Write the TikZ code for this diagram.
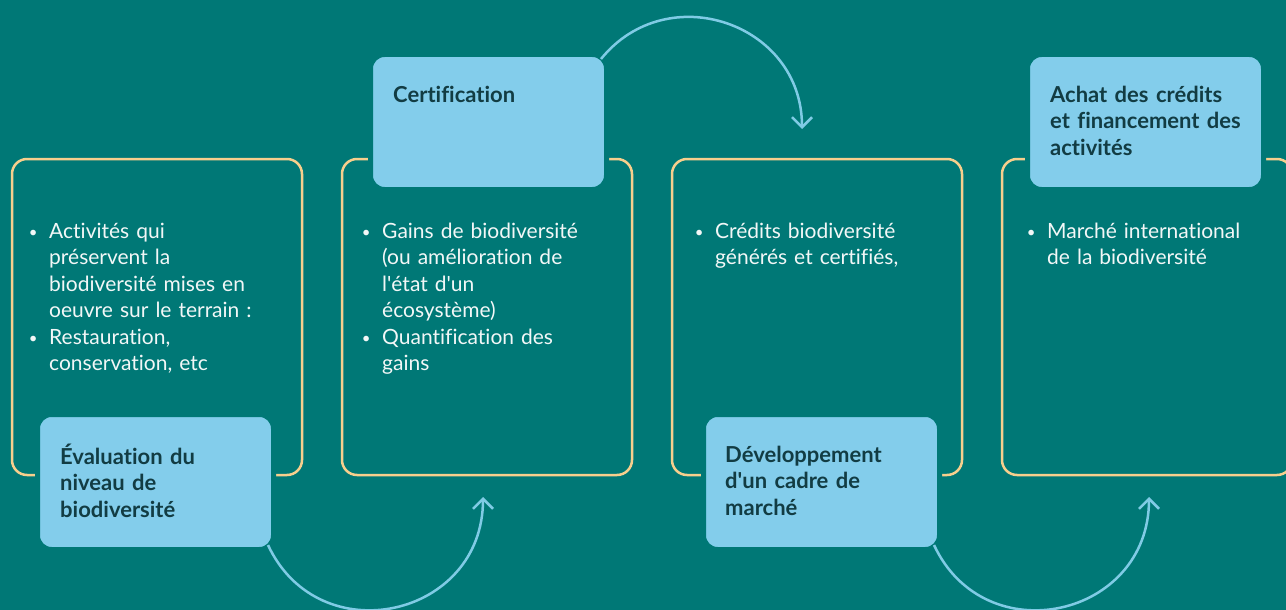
\documentclass[tikz,border=0pt]{standalone}
\usepackage{fontspec}
\setmainfont{Lato}[Ligatures={NoCommon}]
\usetikzlibrary{arrows.meta}

\definecolor{fond}{HTML}{007876}
\definecolor{bleu}{HTML}{83CDEB}
\definecolor{jaune}{HTML}{F7CF8D}
\definecolor{encre}{HTML}{123C43}
\definecolor{blanc}{HTML}{F2F7F7}
\definecolor{ciel}{HTML}{80CBE5}

% bullet with hanging indent
\newcommand\puce{\noindent\hangindent=17pt\hangafter=1\strut\makebox[17pt][l]{\hspace{1pt}\makebox[0pt][c]{\raisebox{0.5pt}{\fontsize{15}{15}\selectfont\textbullet}}}}
\newcommand\apos{\textquotesingle}

\begin{document}
\begin{tikzpicture}[
    x=1pt, y=1pt,
    cadre/.style={draw=jaune, line width=2.5pt, rounded corners=15pt, minimum width=290pt, minimum height=316pt, inner sep=0pt, outer sep=0pt},
    titre/.style={draw=fond, line width=5pt, fill=bleu, rounded corners=14pt, minimum width=236pt, minimum height=135pt, inner sep=0pt, outer sep=0pt},
    texte/.style={anchor=north west, inner sep=0pt, text width=260pt, text=blanc, font=\fontsize{21}{26.5}\selectfont\raggedright},
    etiquette/.style={anchor=north west, inner sep=0pt, text width=210pt, align=left, text=encre, font=\bfseries\fontsize{22}{26.5}\selectfont},
    fleche/.style={draw=ciel, line width=2.5pt, -{Straight Barb[length=10pt,width=20pt]}}
]

    % background
    \fill[fond] (0,0) rectangle (1286,-610);
    \useasboundingbox (0,0) rectangle (1286,-610);

    % frames
    \node[cadre] (f1) at (157,-317) {};
    \node[cadre] (f2) at (487,-317) {};
    \node[cadre] (f3) at (817,-317) {};
    \node[cadre] (f4) at (1147,-317) {};

    % step boxes
    \node[titre] (eval) at (155.5,-482) {};
    \node[titre] (certif) at (488.5,-122) {};
    \node[titre] (marche) at (821.5,-482) {};
    \node[titre] (achat) at (1145.5,-122) {};

    \node[etiquette] (tEval) at (60,-443.5) {\strut Évaluation du\\niveau de\\biodiversité};
    \node[etiquette] (tCertif) at (393,-83.5) {\strut Certification};
    \node[etiquette] (tMarche) at (725,-443.5) {\strut Développement\\d\apos un cadre de\\marché};
    \node[etiquette] (tAchat) at (1050,-83.5) {\strut Achat des crédits\\et financement des\\activités};

    % bullet texts
    \node[texte] (l1) at (32,-219.5) {\puce Activités qui\newline préservent la\newline biodiversité mises en\newline oeuvre sur le terrain :\par\puce Restauration,\newline conservation, etc\par};
    \node[texte] (l2) at (365,-219.5) {\puce Gains de biodiversité\newline (ou amélioration de\newline l\apos état d\apos un\newline écosystème)\par\puce Quantification des\newline gains\par};
    \node[texte] (l3) at (698,-219.5) {\puce Crédits biodiversité\newline générés et certifiés,\par};
    \node[texte] (l4) at (1030,-219.5) {\puce Marché international\newline de la biodiversité\par};

    % arcs
    \draw[fleche] ([xshift=-5.5pt,yshift=4.5pt]eval.south east) to[out=-65, in=-90, looseness=1.4] ([xshift=-4pt,yshift=-22pt]f2.south);
    \draw[fleche] ([xshift=-5.5pt,yshift=-4.5pt]certif.north east) to[out=51, in=90, looseness=1.27] ([xshift=-15pt,yshift=30pt]f3.north);
    \draw[fleche] ([xshift=-5.5pt,yshift=4.5pt]marche.south east) to[out=-65, in=-90, looseness=1.4] ([xshift=2pt,yshift=-22pt]f4.south);

\end{tikzpicture}
\end{document}
